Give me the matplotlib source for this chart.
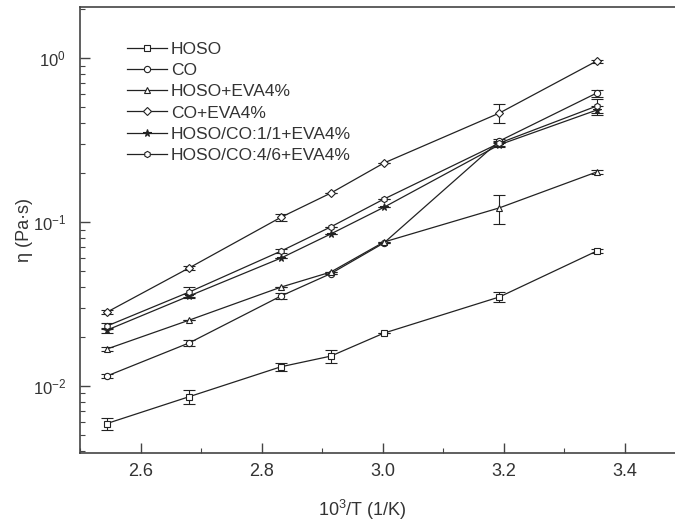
import matplotlib
matplotlib.use('Agg')
import matplotlib.pyplot as plt
from matplotlib.ticker import MultipleLocator, LogLocator, NullFormatter

plt.rcParams.update({
    "font.family": ["Liberation Sans", "DejaVu Sans"],
    "mathtext.default": "regular",
    "font.size": 13})

# 1000/T for 120, 100, 80, 70, 60, 40, 25 degC
inv_t = [2.544, 2.680, 2.832, 2.914, 3.002, 3.193, 3.354]

labels = ['HOSO', 'CO', 'HOSO+EVA4%', 'CO+EVA4%',
          'HOSO/CO:1/1+EVA4%', 'HOSO/CO:4/6+EVA4%']
markers = ['s', 'o', '^', 'D', '*', 'h']

hoso = [0.0059, 0.0086, 0.0131, 0.0152, 0.0210, 0.0349, 0.0665]
co = [0.0115, 0.0183, 0.0354, 0.0484, 0.0745, 0.312, 0.612]
hoso_eva = [0.0168, 0.0252, 0.0401, 0.0495, 0.0755, 0.122, 0.202]
co_eva = [0.0282, 0.0525, 0.107, 0.150, 0.229, 0.462, 0.96]
blend11 = [0.0219, 0.0354, 0.0603, 0.0845, 0.123, 0.296, 0.482]
blend46 = [0.0232, 0.0374, 0.0665, 0.0933, 0.138, 0.303, 0.51]

hoso_err = [0.0005, 0.0008, 0.0008, 0.0013, 0.0, 0.0025, 0.002]
co_err = [0.0003, 0.0008, 0.0015, 0.0, 0.0, 0.01, 0.03]
hoso_eva_err = [0.0005, 0.0, 0.0, 0.0, 0.0, 0.025, 0.005]
co_eva_err = [0.0008, 0.0015, 0.005, 0.0, 0.0, 0.06, 0.02]
blend11_err = [0.0008, 0.001, 0.0, 0.0, 0.0, 0.01, 0.03]
blend46_err = [0.001, 0.0025, 0.002, 0.0, 0.0, 0.01, 0.05]

series = [hoso, co, hoso_eva, co_eva, blend11, blend46]
errors = [hoso_err, co_err, hoso_eva_err, co_eva_err, blend11_err, blend46_err]

fig = plt.figure(figsize=(6.75, 5.22), dpi=100)
ax = fig.add_axes([80 / 675, 1 - 453 / 522, 595 / 675, 446 / 522])

lc = '#222222'
handles = []
for vals, err, m, lab in zip(series, errors, markers, labels):
    ms = 5.5 if m == '*' else 4.5
    mfc = lc if m == '*' else 'white'
    eb = ax.errorbar(inv_t, vals, yerr=err, color=lc, lw=0.9, marker=m, ms=ms,
                     mfc=mfc, mec=lc, mew=0.8, capsize=4, elinewidth=0.8,
                     capthick=0.8, label=lab)
    handles.append(eb[0])

ax.set_yscale('log')
ax.set_xlim(2.4995, 3.4835)
ax.set_ylim(0.0039, 2.05)

ax.xaxis.set_major_locator(MultipleLocator(0.2))
ax.xaxis.set_minor_locator(MultipleLocator(0.1))
ax.yaxis.set_minor_locator(LogLocator(base=10, subs=range(2, 10)))
ax.yaxis.set_minor_formatter(NullFormatter())
ax.xaxis.set_major_formatter(plt.FuncFormatter(lambda v, p: '%.1f' % v))

ax.tick_params(which='both', direction='in', color='#444444', labelcolor='#333333')
ax.tick_params(which='major', length=7, width=1)
ax.tick_params(which='minor', length=3.5, width=0.8)
ax.tick_params(axis='y', which='major', pad=10, labelsize=12)
ax.tick_params(axis='x', which='major', pad=7)

for s in ['left', 'bottom', 'top']:
    ax.spines[s].set_color('#444444')
    ax.spines[s].set_linewidth(1.2)
ax.spines['right'].set_visible(False)

ax.set_xlabel(r'10$^3$/T (1/K)', color='#333333')
ax.xaxis.set_label_coords((362 - 80) / 595, -0.1)
ax.set_ylabel('η (Pa·s)', color='#333333')
ax.yaxis.set_label_coords((33 - 80) / 595, 0.5)

ax.legend(handles, labels, loc='upper left', bbox_to_anchor=(118 / 675, 1 - 33 / 522),
          bbox_transform=fig.transFigure, frameon=False, fontsize=12.5,
          borderpad=0, handlelength=2.3, handletextpad=0.25,
          labelspacing=0.35, labelcolor='#333333')

fig.savefig('out.png', dpi=100)
